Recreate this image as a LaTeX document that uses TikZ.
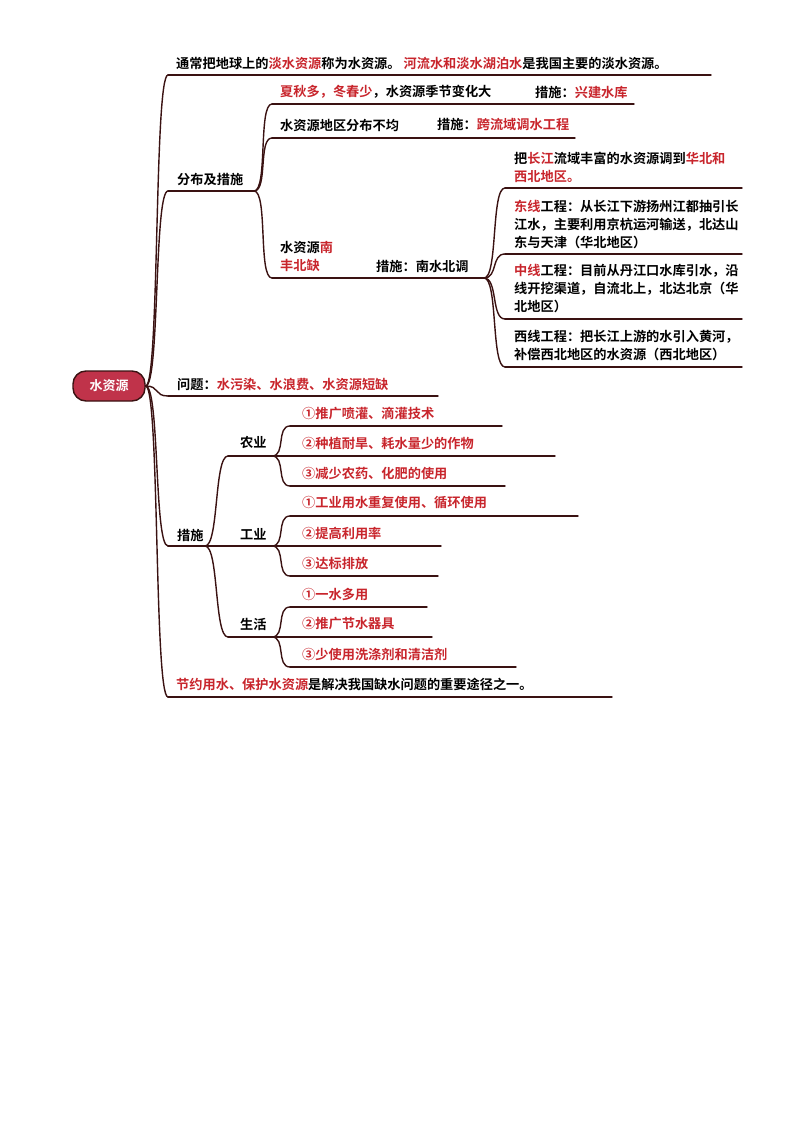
\documentclass[tikz,border=0pt]{standalone}
\usepackage{fontspec}
\usetikzlibrary{calc}
\setmainfont{Noto Sans CJK SC Bold}
\definecolor{rd}{HTML}{C8252C}
\definecolor{ln}{HTML}{3A1212}
\definecolor{rootc}{HTML}{C0334A}
\newcommand{\R}[1]{\textcolor{rd}{#1}}
\begin{document}
\begin{tikzpicture}[x=1pt,y=-1pt,
  br/.style={draw=ln,line width=1.4pt,line cap=round},
  tx/.style={anchor=west,inner sep=0pt,font=\fontsize{13.2}{18}\selectfont,align=left},
  cv/.style={br}]
\useasboundingbox (0,0) rectangle (794,1123);
\newcommand{\cu}[2]{\draw[cv] (#1) .. controls ($(#1)+(14,0)$) and ($(#2)+(-14,0)$) .. (#2);}
\node[draw=ln,line width=1.4pt,fill=rootc,rounded corners=13pt,minimum width=72pt,minimum height=30pt,text=white,font=\fontsize{13}{14}\selectfont] (root) at (109,386) {水资源};
% level 1
\coordinate (a0) at (168,75); \coordinate (a1) at (711,75);
\node[tx] (ta) at (176,63) {通常把地球上的\R{淡水资源}称为水资源。 \R{河流水和淡水湖泊水}是我国主要的淡水资源。};
\coordinate (b0) at (168,191); \coordinate (b1) at (254,191);
\node[tx] (tb) at (177,179) {分布及措施};
\coordinate (c0) at (168,396); \coordinate (c1) at (438,396);
\node[tx] (tc) at (177,384) {问题：\R{水污染、水浪费、水资源短缺}};
\coordinate (d0) at (168,546); \coordinate (d1) at (205,546);
\node[tx] (td) at (177,535) {措施};
\coordinate (e0) at (168,697); \coordinate (e1) at (612,697);
\node[tx] (te) at (176,684) {\R{节约用水、保护水资源}是解决我国缺水问题的重要途径之一。};
\foreach \n in {a,b,c,d,e}{\draw[br] (\n0) -- (\n1);}
\foreach \n in {a0,b0,c0,d0,e0}{\cu{root.east}{\n}}
% level 2 under 分布及措施
\coordinate (f0) at (272,104); \coordinate (f1) at (634,104);
\node[tx] at (280,92) {\R{夏秋多，冬春少}，水资源季节变化大};
\node[tx] at (535,92) {措施：\R{兴建水库}};
\coordinate (g0) at (272,138); \coordinate (g1) at (575,138);
\node[tx] at (280,125) {水资源地区分布不均};
\node[tx] at (437,125) {措施：\R{跨流域调水工程}};
\coordinate (h0) at (272,278); \coordinate (h1) at (484,278);
\node[tx] at (280,256) {水资源\R{南}\\\R{丰北缺}};
\node[tx] at (376,266) {措施：南水北调};
\foreach \n in {f,g,h}{\draw[br] (\n0) -- (\n1); \cu{b1}{\n0}}
% level 3
\coordinate (i0) at (505,188); \coordinate (i1) at (742,188);
\node[tx] at (514,167) {把\R{长江}流域丰富的水资源调到\R{华北和}\\\R{西北地区。}};
\coordinate (j0) at (505,254); \coordinate (j1) at (742,254);
\node[tx] at (514,224) {\R{东线}工程：从长江下游扬州江都抽引长\\江水，主要利用京杭运河输送，北达山\\东与天津（华北地区）};
\coordinate (k0) at (505,319); \coordinate (k1) at (742,319);
\node[tx] at (514,289) {\R{中线}工程：目前从丹江口水库引水，沿\\线开挖渠道，自流北上，北达北京（华\\北地区）};
\coordinate (l0) at (505,367); \coordinate (l1) at (742,367);
\node[tx] at (514,345) {西线工程：把长江上游的水引入黄河，\\补偿西北地区的水资源（西北地区）};
\foreach \n in {i,j,k,l}{\draw[br] (\n0) -- (\n1); \cu{h1}{\n0}}
% 措施 children
\coordinate (m0) at (228,456); \coordinate (m1) at (272,456);
\node[tx] at (240,443) {农业};
\coordinate (n0) at (228,546); \coordinate (n1) at (272,546);
\node[tx] at (240,534) {工业};
\coordinate (o0) at (228,637); \coordinate (o1) at (272,637);
\node[tx] at (240,624) {生活};
\foreach \n in {m,n,o}{\draw[br] (\n0) -- (\n1); \cu{d1}{\n0}}
\newcommand{\leaf}[5]{\coordinate (#1a) at (290,#2); \coordinate (#1b) at (#3,#2);
  \node[tx] at (302,#2-13) {\R{#5}}; \draw[br] (#1a) -- (#1b); \cu{#4}{#1a}}
\leaf{p1}{426}{502}{m1}{①推广喷灌、滴灌技术}
\leaf{p2}{456}{555}{m1}{②种植耐旱、耗水量少的作物}
\leaf{p3}{486}{505}{m1}{③减少农药、化肥的使用}
\leaf{q1}{516}{578}{n1}{①工业用水重复使用、循环使用}
\leaf{q2}{546}{441}{n1}{②提高利用率}
\leaf{q3}{576}{438}{n1}{③达标排放}
\leaf{r1}{607}{427}{o1}{①一水多用}
\leaf{r2}{637}{432}{o1}{②推广节水器具}
\leaf{r3}{667}{516}{o1}{③少使用洗涤剂和清洁剂}
\end{tikzpicture}
\end{document}
